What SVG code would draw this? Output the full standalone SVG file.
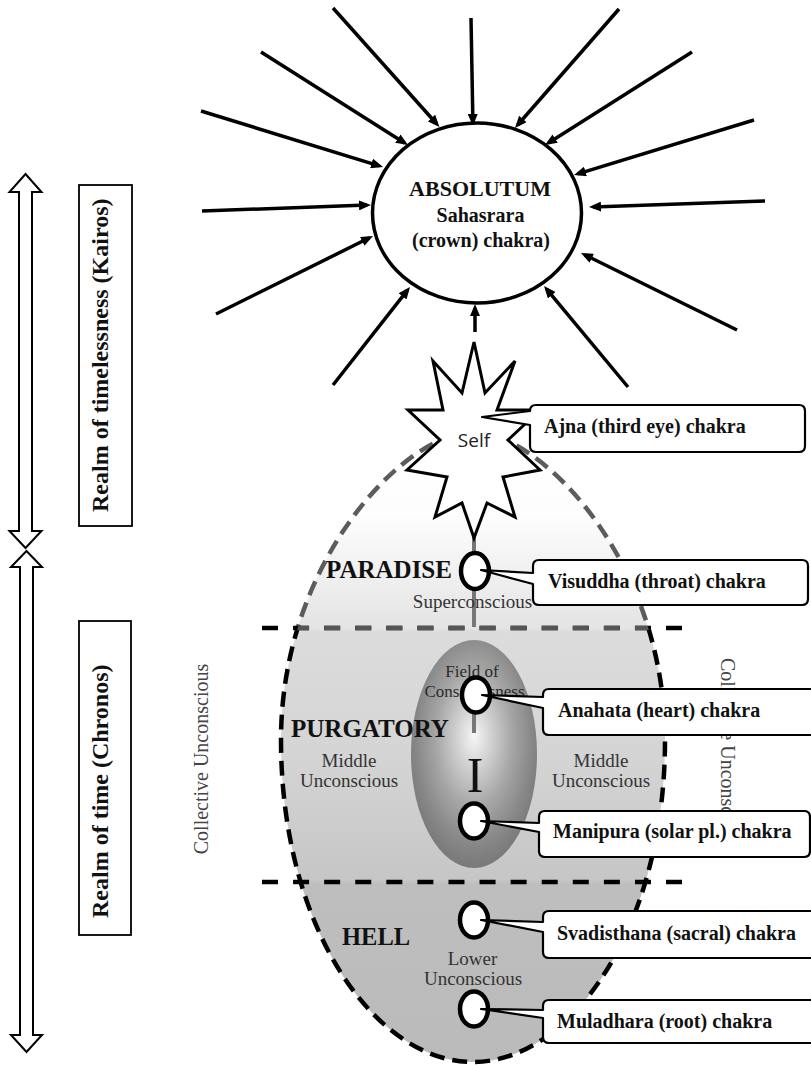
<svg xmlns="http://www.w3.org/2000/svg" width="811" height="1065" viewBox="0 0 811 1065">
<style>
.lbl{font-family:"Liberation Serif","Times New Roman",serif;font-weight:bold;font-size:20px;fill:#111}
.big{font-family:"Liberation Serif","Times New Roman",serif;font-weight:bold;font-size:25px;fill:#111}
.reg{font-family:"Liberation Serif","Times New Roman",serif;font-size:19px;fill:#333;text-anchor:middle}
.small{font-family:"Liberation Serif","Times New Roman",serif;font-size:17px;fill:#2a2a2a;text-anchor:middle}
.realm{font-family:"Liberation Serif","Times New Roman",serif;font-weight:bold;font-size:24px;fill:#111}
.coll{font-family:"Liberation Serif","Times New Roman",serif;font-size:20px;fill:#444}
.chakra{fill:#fff;stroke:#000;stroke-width:4.5}
.callout{fill:#fff;stroke:#000;stroke-width:2.2;stroke-linejoin:round}
.ray{stroke:#000;stroke-width:3.5;marker-end:url(#ah)}
.dbl{fill:#fff;stroke:#000;stroke-width:2}
.hdash{fill:none;stroke-width:4.5;stroke-dasharray:16 15.08}
.edash{fill:none;stroke-width:4.5;stroke-dasharray:15 8}
</style>
<defs>
<marker id="ah" viewBox="0 0 12 10" refX="8" refY="5" markerWidth="12" markerHeight="10" markerUnits="userSpaceOnUse" orient="auto">
<path d="M0,0 L12,5 L0,10 Z" fill="#000"/>
</marker>
<linearGradient id="eggFill" gradientUnits="userSpaceOnUse" x1="0" y1="425" x2="0" y2="1063">
<stop offset="0" stop-color="#ffffff"/>
<stop offset="0.14" stop-color="#fdfdfd"/>
<stop offset="0.318" stop-color="#e4e4e4"/>
<stop offset="0.324" stop-color="#dcdcdc"/>
<stop offset="0.525" stop-color="#d4d4d4"/>
<stop offset="0.713" stop-color="#c6c6c6"/>
<stop offset="0.72" stop-color="#bebebe"/>
<stop offset="1" stop-color="#bababa"/>
</linearGradient>
<radialGradient id="fieldFill" cx="0.5" cy="0.44" r="0.55" fx="0.5" fy="0.42">
<stop offset="0" stop-color="#f6f6f6"/>
<stop offset="0.2" stop-color="#d8d8d8"/>
<stop offset="0.55" stop-color="#a6a6a6"/>
<stop offset="0.85" stop-color="#868686"/>
<stop offset="1" stop-color="#7a7a7a"/>
</radialGradient>
<path id="egg" d="M473,432 C540,432 665,560 665,740 C665,930 570,1062 473,1062 C376,1062 281,930 281,740 C281,560 406,432 473,432 Z"/>
<clipPath id="upper"><rect x="0" y="0" width="811" height="628"/></clipPath>
<clipPath id="lower"><rect x="0" y="628" width="811" height="437"/></clipPath>
<clipPath id="eggClip"><use href="#egg"/></clipPath>
</defs>

<g id="realm-timelessness">
<path class="dbl" d="M25.5,174 L41.5,192 L32,192 L32,531 L41.5,531 L25.5,548 L9.5,531 L19,531 L19,192 L9.5,192 Z"/>
<rect x="79" y="185" width="53" height="341" fill="#fff" stroke="#000" stroke-width="1.8"/>
<text class="realm" transform="translate(108,512) rotate(-90)">Realm of timelessness (Kairos)</text>
</g>
<g id="realm-time">
<path class="dbl" d="M26.5,551 L42,567 L33,567 L33,1035 L42,1035 L26.5,1052 L11,1035 L20,1035 L20,567 L11,567 Z"/>
<rect x="79" y="621" width="52" height="314" fill="#fff" stroke="#000" stroke-width="1.8"/>
<text class="realm" transform="translate(108,918) rotate(-90)">Realm of time (Chronos)</text>
</g>

<g id="psyche">
<use href="#egg" fill="url(#eggFill)"/>
<ellipse id="field-of-consciousness" cx="474" cy="754" rx="63" ry="114" fill="url(#fieldFill)"/>
<use href="#egg" class="edash" stroke="#5c5c5c" clip-path="url(#upper)"/>
<use href="#egg" class="edash" stroke="#000" clip-path="url(#lower)"/>
<line class="hdash" x1="262" y1="628" x2="682" y2="628" stroke="#000"/>
<line class="hdash" x1="262" y1="628" x2="682" y2="628" stroke="#555" clip-path="url(#eggClip)"/>
<line class="hdash" x1="262" y1="882" x2="682" y2="882" stroke="#000"/>
</g>

<g id="connectors">
<line x1="474" y1="537" x2="474" y2="627" stroke="#777" stroke-width="4"/>
<line x1="474" y1="712" x2="474" y2="733" stroke="#777" stroke-width="4"/>
<line class="ray" x1="333" y1="8" x2="436.8" y2="124"/>
<line class="ray" x1="471" y1="18" x2="472.9" y2="122"/>
<line class="ray" x1="619" y1="9" x2="517.6" y2="125"/>
<line class="ray" x1="692" y1="52" x2="548.4" y2="142.9"/>
<line class="ray" x1="754" y1="120" x2="577.8" y2="173.8"/>
<line class="ray" x1="765" y1="201" x2="593" y2="206.9"/>
<line class="ray" x1="737" y1="330" x2="584.6" y2="254.8"/>
<line class="ray" x1="628" y1="387" x2="546.6" y2="289.1"/>
<line class="ray" x1="475" y1="332" x2="475" y2="308"/>
<line class="ray" x1="333" y1="385" x2="407.5" y2="290.1"/>
<line class="ray" x1="216" y1="314" x2="369.4" y2="237.8"/>
<line class="ray" x1="202" y1="211" x2="367" y2="205.1"/>
<line class="ray" x1="201" y1="111" x2="379.2" y2="165.8"/>
<line class="ray" x1="261" y1="52" x2="404.6" y2="142.9"/>
</g>

<g id="region-labels">
<text class="big" x="326" y="578">PARADISE</text>
<text class="reg" x="472.5" y="608">Superconscious</text>
<text class="big" x="291" y="737">PURGATORY</text>
<text class="reg" x="349" y="767">Middle</text>
<text class="reg" x="349" y="787">Unconscious</text>
<text class="reg" x="601" y="767">Middle</text>
<text class="reg" x="601" y="787">Unconscious</text>
<text class="small" x="472" y="677">Field of</text>
<text class="small" x="474.5" y="697">Consciousness</text>
<text x="475" y="792" text-anchor="middle" font-family="Liberation Serif, Times New Roman, serif" font-size="50" fill="#111">I</text>
<text class="big" x="342" y="945" style="font-size:24.5px">HELL</text>
<text class="reg" x="472.5" y="965">Lower</text>
<text class="reg" x="473" y="985">Unconscious</text>
<text class="coll" transform="translate(208,759) rotate(-90)" text-anchor="middle">Collective Unconscious</text>
<text class="coll" transform="translate(721,658) rotate(90)">Collective Unconscious</text>
</g>

<g id="absolutum">
<ellipse cx="477" cy="213" rx="104.5" ry="90" fill="#fff" stroke="#000" stroke-width="3.5"/>
<text class="lbl" x="480" y="196" text-anchor="middle" style="font-size:22px">ABSOLUTUM</text>
<text class="lbl" x="480.5" y="222" text-anchor="middle">Sahasrara</text>
<text class="lbl" x="481" y="247" text-anchor="middle">(crown) chakra)</text>
</g>

<g id="self">
<polygon points="474,342 485,393 515,361 497,410 540,410 508,440 540,470 503,477 515,517 487,503 474,538 462,503 435,517 447,477 407,470 440,440 408,410 443,410 433,361 462,393" fill="#fff" stroke="#000" stroke-width="3" stroke-linejoin="miter"/>
<text x="474" y="447" text-anchor="middle" font-family="Open Sans, Noto Sans, sans-serif" font-size="19" fill="#222">Self</text>
</g>

<g id="chakra-visuddha"><ellipse class="chakra" cx="475" cy="571" rx="14" ry="18"/></g>
<g id="chakra-anahata"><ellipse class="chakra" cx="476" cy="695" rx="14" ry="17.5"/></g>
<g id="chakra-manipura"><ellipse class="chakra" cx="474" cy="821" rx="14" ry="17.5"/></g>
<g id="chakra-svadisthana"><ellipse class="chakra" cx="474" cy="920" rx="14" ry="17.5"/></g>
<g id="chakra-muladhara"><ellipse class="chakra" cx="474" cy="1009" rx="14" ry="17.5"/></g>

<g id="label-ajna">
<path class="callout" d="M536,405 H799 Q805,405 805,411 V446 Q805,452 799,452 H536 Q530,452 530,446 V425 L482,417 L530,411 Q530,405 536,405 Z"/>
<text class="lbl" x="544" y="433">Ajna (third eye) chakra</text>
</g>
<g id="label-visuddha">
<path class="callout" d="M539,560 H802 Q808,560 808,566 V599 Q808,605 802,605 H539 Q533,605 533,599 V584 L481,570 L533,573 V566 Q533,560 539,560 Z"/>
<text class="lbl" x="548" y="588">Visuddha (throat) chakra</text>
</g>
<g id="label-anahata">
<path class="callout" d="M549,689 H840 V735 H549 Q543,735 543,729 V708 L482,695 L543,697 V695 Q543,689 549,689 Z"/>
<text class="lbl" x="558" y="717">Anahata (heart) chakra</text>
</g>
<g id="label-manipura">
<path class="callout" d="M545,811 H804 Q810,811 810,817 V851 Q810,857 804,857 H545 Q539,857 539,851 V832 L481,821 L539,823 V817 Q539,811 545,811 Z"/>
<text class="lbl" x="553" y="838">Manipura (solar pl.) chakra</text>
</g>
<g id="label-svadisthana">
<path class="callout" d="M549,911 H840 V958 H549 Q543,958 543,952 V932 L481,920 L543,922 V917 Q543,911 549,911 Z"/>
<text class="lbl" x="557" y="940">Svadisthana (sacral) chakra</text>
</g>
<g id="label-muladhara">
<path class="callout" d="M549,1000 H840 V1043 H549 Q543,1043 543,1037 V1018 L481,1009 L543,1010 V1006 Q543,1000 549,1000 Z"/>
<text class="lbl" x="557" y="1028">Muladhara (root) chakra</text>
</g>
</svg>
